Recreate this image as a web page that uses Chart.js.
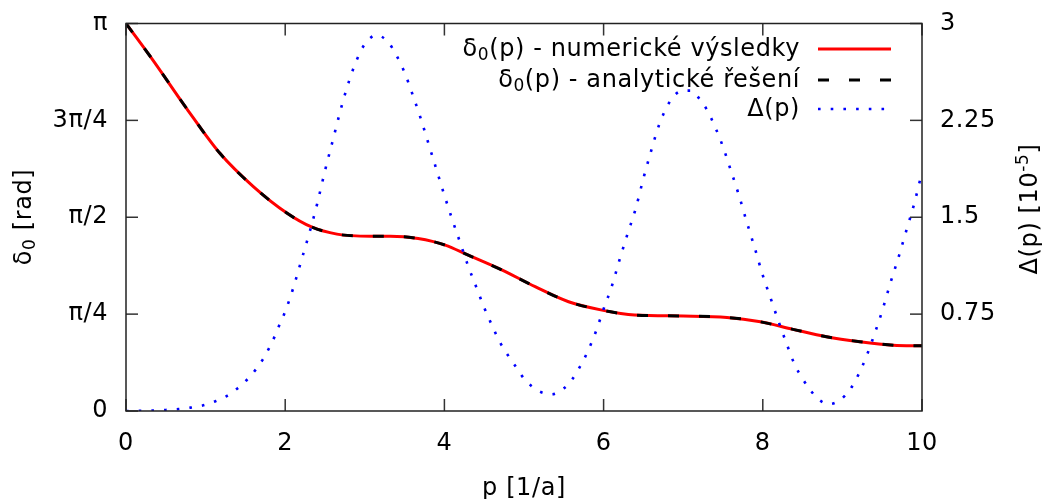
<!DOCTYPE html>
<html>
<head>
<meta charset="utf-8">
<script src="https://cdn.jsdelivr.net/npm/chart.js@4.4.1/dist/chart.umd.min.js"></script>
<style>
  html, body { margin: 0; padding: 0; background: #fff; }
  #wrap { width: 1045px; height: 499px; }
</style>
</head>
<body>
<div id="wrap"><canvas id="myChart" width="1045" height="499"></canvas></div>
<script>
// delta_0(p), both solutions (radians)
const deltaP = [0, 0.34, 0.76, 1.18, 1.6, 2.02, 2.33, 2.65, 3.07, 3.32, 3.67, 4.01, 4.3, 4.72, 5.14, 5.56, 5.98, 6.39, 7.0, 7.55, 7.97, 8.38, 8.8, 9.22, 9.64, 10];
const deltaNum = [3.142, 2.843, 2.454, 2.089, 1.819, 1.605, 1.492, 1.434, 1.417, 1.417, 1.398, 1.345, 1.263, 1.144, 1.008, 0.886, 0.818, 0.778, 0.770, 0.759, 0.723, 0.662, 0.602, 0.562, 0.534, 0.528];
const deltaAna = [3.142, 2.843, 2.454, 2.089, 1.819, 1.605, 1.492, 1.434, 1.417, 1.417, 1.398, 1.345, 1.263, 1.144, 1.008, 0.886, 0.818, 0.778, 0.770, 0.759, 0.723, 0.662, 0.602, 0.562, 0.534, 0.528];

// Delta(p) in units of 1e-5 (right axis)
const diffP = [0, 0.33, 0.5, 0.66, 0.81, 0.97, 1.13, 1.27, 1.4, 1.52, 1.63, 1.72, 1.8, 1.87, 1.93, 2.0, 2.1, 2.2, 2.3, 2.4, 2.5, 2.6, 2.7, 2.8, 2.9, 3.0, 3.15, 3.3, 3.4, 3.5, 3.6, 3.7, 3.8, 3.9, 4.0, 4.1, 4.2, 4.3, 4.4, 4.5, 4.6, 4.7, 4.8, 4.9, 5.0, 5.1, 5.2, 5.35, 5.5, 5.6, 5.7, 5.8, 5.9, 6.0, 6.1, 6.2, 6.3, 6.4, 6.5, 6.6, 6.7, 6.8, 6.9, 7.0, 7.1, 7.2, 7.3, 7.4, 7.5, 7.6, 7.7, 7.8, 7.9, 8.0, 8.1, 8.2, 8.3, 8.4, 8.5, 8.6, 8.7, 8.83, 8.97, 9.1, 9.2, 9.3, 9.4, 9.5, 9.6, 9.7, 9.8, 9.9, 10];
const diffVals = [0, 0.003, 0.008, 0.015, 0.026, 0.044, 0.077, 0.118, 0.175, 0.242, 0.32, 0.40, 0.49, 0.58, 0.67, 0.77, 0.95, 1.16, 1.37, 1.60, 1.86, 2.10, 2.34, 2.55, 2.72, 2.84, 2.91, 2.85, 2.75, 2.62, 2.45, 2.27, 2.07, 1.87, 1.67, 1.48, 1.30, 1.12, 0.96, 0.80, 0.66, 0.53, 0.43, 0.34, 0.25, 0.19, 0.15, 0.13, 0.175, 0.24, 0.34, 0.46, 0.61, 0.79, 0.96, 1.17, 1.37, 1.56, 1.80, 2.02, 2.22, 2.36, 2.45, 2.48, 2.48, 2.42, 2.33, 2.20, 2.045, 1.86, 1.67, 1.46, 1.26, 1.05, 0.87, 0.69, 0.52, 0.36, 0.25, 0.16, 0.09, 0.054, 0.085, 0.17, 0.28, 0.42, 0.59, 0.775, 0.985, 1.18, 1.39, 1.60, 1.85];

// axes
const xTicks = [0, 2, 4, 6, 8, 10];
const leftTickVals = [0, Math.PI / 4, Math.PI / 2, 3 * Math.PI / 4, Math.PI];
const leftTickLabels = ['0', 'π/4', 'π/2', '3π/4', 'π'];
const rightTickVals = [0.75, 1.5, 2.25, 3];
const rightTickLabels = ['0.75', '1.5', '2.25', '3'];

// texts with sub/superscripts: [text, shift] where shift 1 = sub, -1 = sup
const legendLabels = [
  [['δ', 0], ['0', 1], ['(p) - numerické výsledky', 0]],
  [['δ', 0], ['0', 1], ['(p) - analytické řešení', 0]],
  [['Δ(p)', 0]]
];
const leftTitle = [['δ', 0], ['0', 1], [' [rad]', 0]];
const rightTitle = [['Δ(p) [10', 0], ['-5', -1], [']', 0]];

const FONT = 'DejaVu Sans';
const FS = 24;
const SPACING = '0.6px';
Chart.defaults.font.family = FONT;
Chart.defaults.font.size = FS;
Chart.defaults.color = '#000';

function pts(xs, ys) {
  return xs.map(function (x, i) { return { x: x, y: ys[i] }; });
}

function richWidth(ctx, parts) {
  let w = 0;
  parts.forEach(function (p) {
    ctx.font = (p[1] ? Math.round(FS * 0.72) : FS) + 'px "' + FONT + '"';
    w += ctx.measureText(p[0]).width;
  });
  return w;
}

// draws parts starting at x (left), middle at y
function richText(ctx, parts, x, y) {
  ctx.textAlign = 'left';
  ctx.textBaseline = 'middle';
  parts.forEach(function (p) {
    const small = p[1] !== 0;
    ctx.font = (small ? Math.round(FS * 0.72) : FS) + 'px "' + FONT + '"';
    const dy = p[1] === 1 ? 6 : (p[1] === -1 ? -7 : 0);
    ctx.fillText(p[0], x, y + dy);
    x += ctx.measureText(p[0]).width;
  });
}

const spacing = {
  id: 'spacing',
  beforeDraw(chart) { chart.ctx.letterSpacing = SPACING; }
};

// gnuplot-like frame, inward ticks, key and axis titles
const gnuFrame = {
  id: 'gnuFrame',
  afterDatasetsDraw(chart) {
    const ctx = chart.ctx;
    const a = chart.chartArea;
    const sx = chart.scales.x, sy = chart.scales.y, sy2 = chart.scales.y2;
    const tl = 12;
    ctx.save();
    ctx.setLineDash([]);
    ctx.strokeStyle = '#333';
    ctx.lineWidth = 1.5;
    xTicks.forEach(function (v) {
      const px = sx.getPixelForValue(v);
      ctx.beginPath();
      ctx.moveTo(px, a.bottom); ctx.lineTo(px, a.bottom - tl);
      ctx.moveTo(px, a.top); ctx.lineTo(px, a.top + tl);
      ctx.stroke();
    });
    leftTickVals.forEach(function (v) {
      const py = sy.getPixelForValue(v);
      ctx.beginPath();
      ctx.moveTo(a.left, py); ctx.lineTo(a.left + tl, py);
      ctx.stroke();
    });
    rightTickVals.forEach(function (v) {
      const py = sy2.getPixelForValue(v);
      ctx.beginPath();
      ctx.moveTo(a.right, py); ctx.lineTo(a.right - tl, py);
      ctx.stroke();
    });
    ctx.strokeStyle = '#222';
    ctx.beginPath();
    ctx.rect(a.left, a.top, a.right - a.left, a.bottom - a.top);
    ctx.stroke();

    // key
    const rows = [49, 80, 109];
    ctx.fillStyle = '#000';
    [0, 1, 2].forEach(function (i) {
      const ds = chart.data.datasets[i];
      const w = richWidth(ctx, legendLabels[i]);
      richText(ctx, legendLabels[i], 800 - w, rows[i] + 1);
      ctx.save();
      ctx.strokeStyle = ds.borderColor;
      ctx.lineWidth = ds.borderWidth;
      ctx.setLineDash(ds.borderDash || []);
      ctx.beginPath();
      ctx.moveTo(818, rows[i]);
      ctx.lineTo(891, rows[i]);
      ctx.stroke();
      ctx.restore();
    });

    // axis titles, both reading bottom to top
    [[leftTitle, 25, 217], [rightTitle, 1031, 209]].forEach(function (t) {
      ctx.save();
      ctx.translate(t[1], t[2]);
      ctx.rotate(-Math.PI / 2);
      richText(ctx, t[0], -richWidth(ctx, t[0]) / 2, 0);
      ctx.restore();
    });
    ctx.restore();
  }
};

new Chart(document.getElementById('myChart'), {
  type: 'line',
  data: {
    datasets: [
      {
        label: 'numerické výsledky',
        data: pts(deltaP, deltaNum),
        yAxisID: 'y',
        borderColor: '#ff0000',
        borderWidth: 3,
        pointRadius: 0,
        cubicInterpolationMode: 'monotone',
        order: 2
      },
      {
        label: 'analytické řešení',
        data: pts(deltaP, deltaAna),
        yAxisID: 'y',
        borderColor: '#000000',
        borderWidth: 3,
        borderDash: [11, 20],
        pointRadius: 0,
        cubicInterpolationMode: 'monotone',
        order: 1
      },
      {
        label: 'Δ(p)',
        data: pts(diffP, diffVals),
        yAxisID: 'y2',
        borderColor: '#0000ff',
        borderWidth: 2.6,
        borderDash: [2.6, 10.1],
        pointRadius: 0,
        cubicInterpolationMode: 'monotone',
        order: 0
      }
    ]
  },
  options: {
    responsive: false,
    animation: false,
    devicePixelRatio: 1,
    layout: { padding: { top: 23.5, left: 0, right: 0, bottom: 0 } },
    plugins: { legend: { display: false }, tooltip: { enabled: false } },
    scales: {
      x: {
        type: 'linear',
        min: 0, max: 10,
        grid: { display: false, drawTicks: false },
        border: { display: false },
        afterBuildTicks: function (s) { s.ticks = xTicks.map(function (v) { return { value: v }; }); },
        ticks: { padding: 18, maxRotation: 0 },
        title: { display: true, text: 'p [1/a]', padding: { top: 0, bottom: -4 } },
        afterFit: function (s) { s.height = 88; }
      },
      y: {
        type: 'linear',
        position: 'left',
        min: 0, max: Math.PI,
        grid: { display: false, drawTicks: true, tickLength: 18 },
        border: { display: false },
        afterBuildTicks: function (s) { s.ticks = leftTickVals.map(function (v) { return { value: v }; }); },
        ticks: {
          padding: 0,
          callback: function (v) {
            const i = leftTickVals.findIndex(function (t) { return Math.abs(t - v) < 1e-6; });
            return i >= 0 ? leftTickLabels[i] : '';
          }
        },
        afterFit: function (s) { s.width = 126; }
      },
      y2: {
        type: 'linear',
        position: 'right',
        min: 0, max: 3,
        grid: { display: false, drawTicks: true, tickLength: 18 },
        border: { display: false },
        afterBuildTicks: function (s) { s.ticks = rightTickVals.map(function (v) { return { value: v }; }); },
        ticks: {
          padding: 0,
          callback: function (v) {
            const i = rightTickVals.findIndex(function (t) { return Math.abs(t - v) < 1e-6; });
            return i >= 0 ? rightTickLabels[i] : '';
          }
        },
        afterFit: function (s) { s.width = 123; }
      }
    }
  },
  plugins: [spacing, gnuFrame]
});
</script>
</body>
</html>
